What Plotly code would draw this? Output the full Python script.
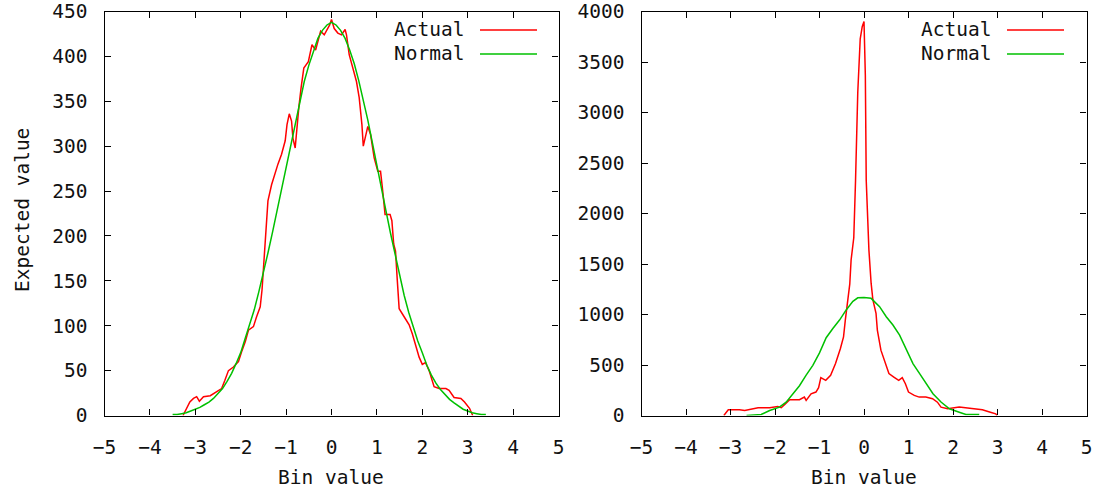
import plotly.graph_objects as go

# ---------------- data ----------------
left_normal_x = [-3.5, -3.4, -3.3, -3.2, -3.1, -3.0, -2.9, -2.8, -2.7, -2.6, -2.5, -2.4, -2.3, -2.2, -2.1,
                 -2.0, -1.9, -1.8, -1.7, -1.6, -1.5, -1.4, -1.3, -1.2, -1.1, -1.0, -0.9, -0.8, -0.7, -0.6,
                 -0.5, -0.4, -0.3, -0.2, -0.1, 0.0, 0.1, 0.2, 0.3, 0.4, 0.5, 0.6, 0.7, 0.8, 0.9,
                 1.0, 1.1, 1.2, 1.3, 1.4, 1.5, 1.6, 1.7, 1.8, 1.9, 2.0, 2.1, 2.2, 2.3, 2.4,
                 2.5, 2.6, 2.7, 2.8, 2.9, 3.0, 3.1, 3.2, 3.3, 3.4]
left_normal_y = [1, 1, 2, 3, 5, 7, 9, 12, 15, 19, 24, 30, 38, 47, 58,
                 70, 86, 102, 118, 138, 158, 181, 204, 228, 253, 280, 304, 328, 351, 372,
                 390, 406, 420, 429, 435, 438, 435, 429, 420, 407, 392, 373, 352, 329, 304,
                 280, 254, 228, 203, 179, 156, 134, 115, 98, 83, 70, 56, 45, 36, 29,
                 23, 18, 14, 10, 7, 5, 3, 2, 1, 1]

left_actual_x = [-3.27, -3.19, -3.12, -3.04, -2.97, -2.91, -2.82, -2.67, -2.53, -2.42, -2.35, -2.27, -2.16,
                 -2.05, -1.98, -1.90, -1.83, -1.72, -1.65, -1.57, -1.53, -1.47, -1.44, -1.40, -1.32, -1.25,
                 -1.18, -1.10, -1.02, -0.98, -0.93, -0.88, -0.85, -0.80, -0.77, -0.72, -0.67, -0.61, -0.51,
                 -0.43, -0.35, -0.29, -0.24, -0.16, -0.09, -0.04, 0.00, 0.06, 0.14, 0.22, 0.30, 0.33,
                 0.39, 0.47, 0.55, 0.61, 0.67, 0.70, 0.75, 0.80, 0.86, 0.94, 1.02, 1.08, 1.12,
                 1.18, 1.29, 1.33, 1.37, 1.41, 1.45, 1.49, 1.60, 1.71, 1.78, 1.86, 1.93, 2.00,
                 2.07, 2.15, 2.26, 2.37, 2.52, 2.59, 2.70, 2.85, 2.93, 3.04, 3.11]
left_actual_y = [0, 8, 15, 19, 21, 16, 21, 22, 26, 30, 39, 50, 54,
                 60, 71, 82, 95, 99, 110, 121, 140, 185, 206, 239, 257, 269,
                 280, 291, 306, 324, 336, 328, 309, 298, 317, 343, 365, 387, 394,
                 413, 407, 420, 428, 424, 431, 435, 441, 431, 426, 424, 430, 424,
                 402, 387, 372, 354, 324, 300, 313, 322, 313, 287, 272, 272, 254,
                 224, 224, 217, 191, 183, 150, 119, 110, 101, 91, 76, 65, 57,
                 59, 50, 32, 30, 30, 28, 20, 19, 15, 8, 0]

right_normal_x = [-2.64, -2.31, -2.12, -1.90, -1.75, -1.60, -1.45, -1.30, -1.15, -1.00, -0.85, -0.70,
                  -0.55, -0.40, -0.25, -0.14, 0.0, 0.16, 0.25, 0.35, 0.50, 0.65, 0.80, 0.95, 1.10,
                  1.25, 1.40, 1.55, 1.73, 1.92, 2.14, 2.29, 2.59]
right_normal_y = [0, 10, 50, 83, 132, 216, 295, 400, 497, 620, 770, 862,
                  945, 1045, 1130, 1165, 1168, 1160, 1120, 1078, 978, 896, 796, 647, 514,
                  415, 315, 216, 133, 66, 33, 10, 10]

right_actual_x = [-3.15, -3.05, -2.80, -2.68, -2.38, -2.12, -1.94, -1.86, -1.78, -1.67, -1.45, -1.34,
                  -1.30, -1.19, -1.08, -1.02, -0.97, -0.86, -0.75, -0.64, -0.53, -0.46, -0.42, -0.38,
                  -0.32, -0.29, -0.23, -0.19, -0.14, -0.085, -0.04, 0.0, 0.03, 0.05, 0.11, 0.16,
                  0.20, 0.27, 0.30, 0.38, 0.45, 0.56, 0.67, 0.78, 0.86, 0.93, 1.00, 1.13, 1.24,
                  1.39, 1.54, 1.65, 1.73, 1.88, 2.14, 2.40, 2.66, 2.84, 2.96, 2.99]
right_actual_y = [0, 56, 56, 50, 77, 77, 90, 77, 110, 156, 156, 182,
                  150, 215, 232, 275, 375, 348, 398, 514, 663, 779, 945, 1070,
                  1300, 1540, 1760, 2330, 3200, 3730, 3850, 3900, 3370, 2330, 1640, 1310,
                  1144, 1012, 846, 647, 547, 415, 381, 348, 375, 315, 232, 199, 182,
                  182, 166, 132, 83, 66, 83, 66, 56, 33, 17, 0]

series_names = ["Actual", "Normal"]
x_ticks = [-5, -4, -3, -2, -1, 0, 1, 2, 3, 4, 5]
left_y_ticks = [0, 50, 100, 150, 200, 250, 300, 350, 400, 450]
right_y_ticks = [0, 500, 1000, 1500, 2000, 2500, 3000, 3500, 4000]
x_title = "Bin value"
y_title = "Expected value"

# ---------------- styling ----------------
W, H = 1100, 491
RED = "#ff0000"
GREEN = "#00c000"
FONT = "DejaVu Sans Mono"
FS = 19.5

def fx(px):
    return px / W

def fy(py):
    return 1 - py / H

left_dom = [fx(104.5), fx(558.5)]
right_dom = [fx(641.5), fx(1086.5)]
y_dom = [fy(415.5), fy(11.5)]

fig = go.Figure()
fig.add_trace(go.Scatter(x=left_actual_x, y=left_actual_y, mode="lines", name=series_names[0],
                         line=dict(color=RED, width=1.5), xaxis="x", yaxis="y", showlegend=False))
fig.add_trace(go.Scatter(x=left_normal_x, y=left_normal_y, mode="lines", name=series_names[1],
                         line=dict(color=GREEN, width=1.5), xaxis="x", yaxis="y", showlegend=False))
fig.add_trace(go.Scatter(x=right_actual_x, y=right_actual_y, mode="lines", name=series_names[0],
                         line=dict(color=RED, width=1.5), xaxis="x2", yaxis="y2", showlegend=False))
fig.add_trace(go.Scatter(x=right_normal_x, y=right_normal_y, mode="lines", name=series_names[1],
                         line=dict(color=GREEN, width=1.5), xaxis="x2", yaxis="y2", showlegend=False))

axis_common = dict(showline=True, linecolor="black", linewidth=1.2, mirror="ticks",
                   ticks="inside", ticklen=6, tickwidth=1.2, tickcolor="black",
                   showgrid=False, zeroline=False, automargin=False,
                   tickfont=dict(family=FONT, size=FS, color="#111111"))

fig.update_layout(
    width=W, height=H, template="none",
    margin=dict(l=0, r=0, t=0, b=0),
    paper_bgcolor="white", plot_bgcolor="white",
    font=dict(family=FONT, size=FS, color="#111111"),
    showlegend=False,
    xaxis=dict(domain=left_dom, range=[-5, 5], tickvals=x_ticks, anchor="y",
               ticklabelstandoff=14, **axis_common),
    yaxis=dict(domain=y_dom, range=[0, 450], tickvals=left_y_ticks, anchor="x",
               ticklabelstandoff=12, **axis_common),
    xaxis2=dict(domain=right_dom, range=[-5, 5], tickvals=x_ticks, anchor="y2",
                ticklabelstandoff=14, **axis_common),
    yaxis2=dict(domain=y_dom, range=[0, 4000], tickvals=right_y_ticks, anchor="x2",
                ticklabelstandoff=12, **axis_common),
)

# axis titles
fig.add_annotation(text=x_title, x=fx(331), y=fy(477), xref="paper", yref="paper",
                   showarrow=False, xanchor="center", yanchor="middle",
                   font=dict(family=FONT, size=FS, color="#111111"))
fig.add_annotation(text=x_title, x=fx(864), y=fy(477), xref="paper", yref="paper",
                   showarrow=False, xanchor="center", yanchor="middle",
                   font=dict(family=FONT, size=FS, color="#111111"))
fig.add_annotation(text=y_title, x=fx(22), y=fy(210), xref="paper", yref="paper",
                   showarrow=False, textangle=-90, xanchor="center", yanchor="middle",
                   font=dict(family=FONT, size=FS, color="#111111"))

# gnuplot-style legends (text left of the line sample)
legend_specs = [
    (466, 480, 537),    # left panel: text right edge, line start, line end
    (993, 1007, 1064),  # right panel
]
legend_rows = [(30, RED), (54, GREEN)]
for text_right, l0, l1 in legend_specs:
    for (ypx, col), name in zip(legend_rows, series_names):
        fig.add_annotation(text=name, x=fx(text_right), y=fy(ypx), xref="paper", yref="paper",
                           showarrow=False, xanchor="right", yanchor="middle",
                           font=dict(family=FONT, size=FS, color="#111111"))
        fig.add_shape(type="line", xref="paper", yref="paper",
                      x0=fx(l0), x1=fx(l1), y0=fy(ypx), y1=fy(ypx),
                      line=dict(color=col, width=1.5))

fig.write_html("out.html")
